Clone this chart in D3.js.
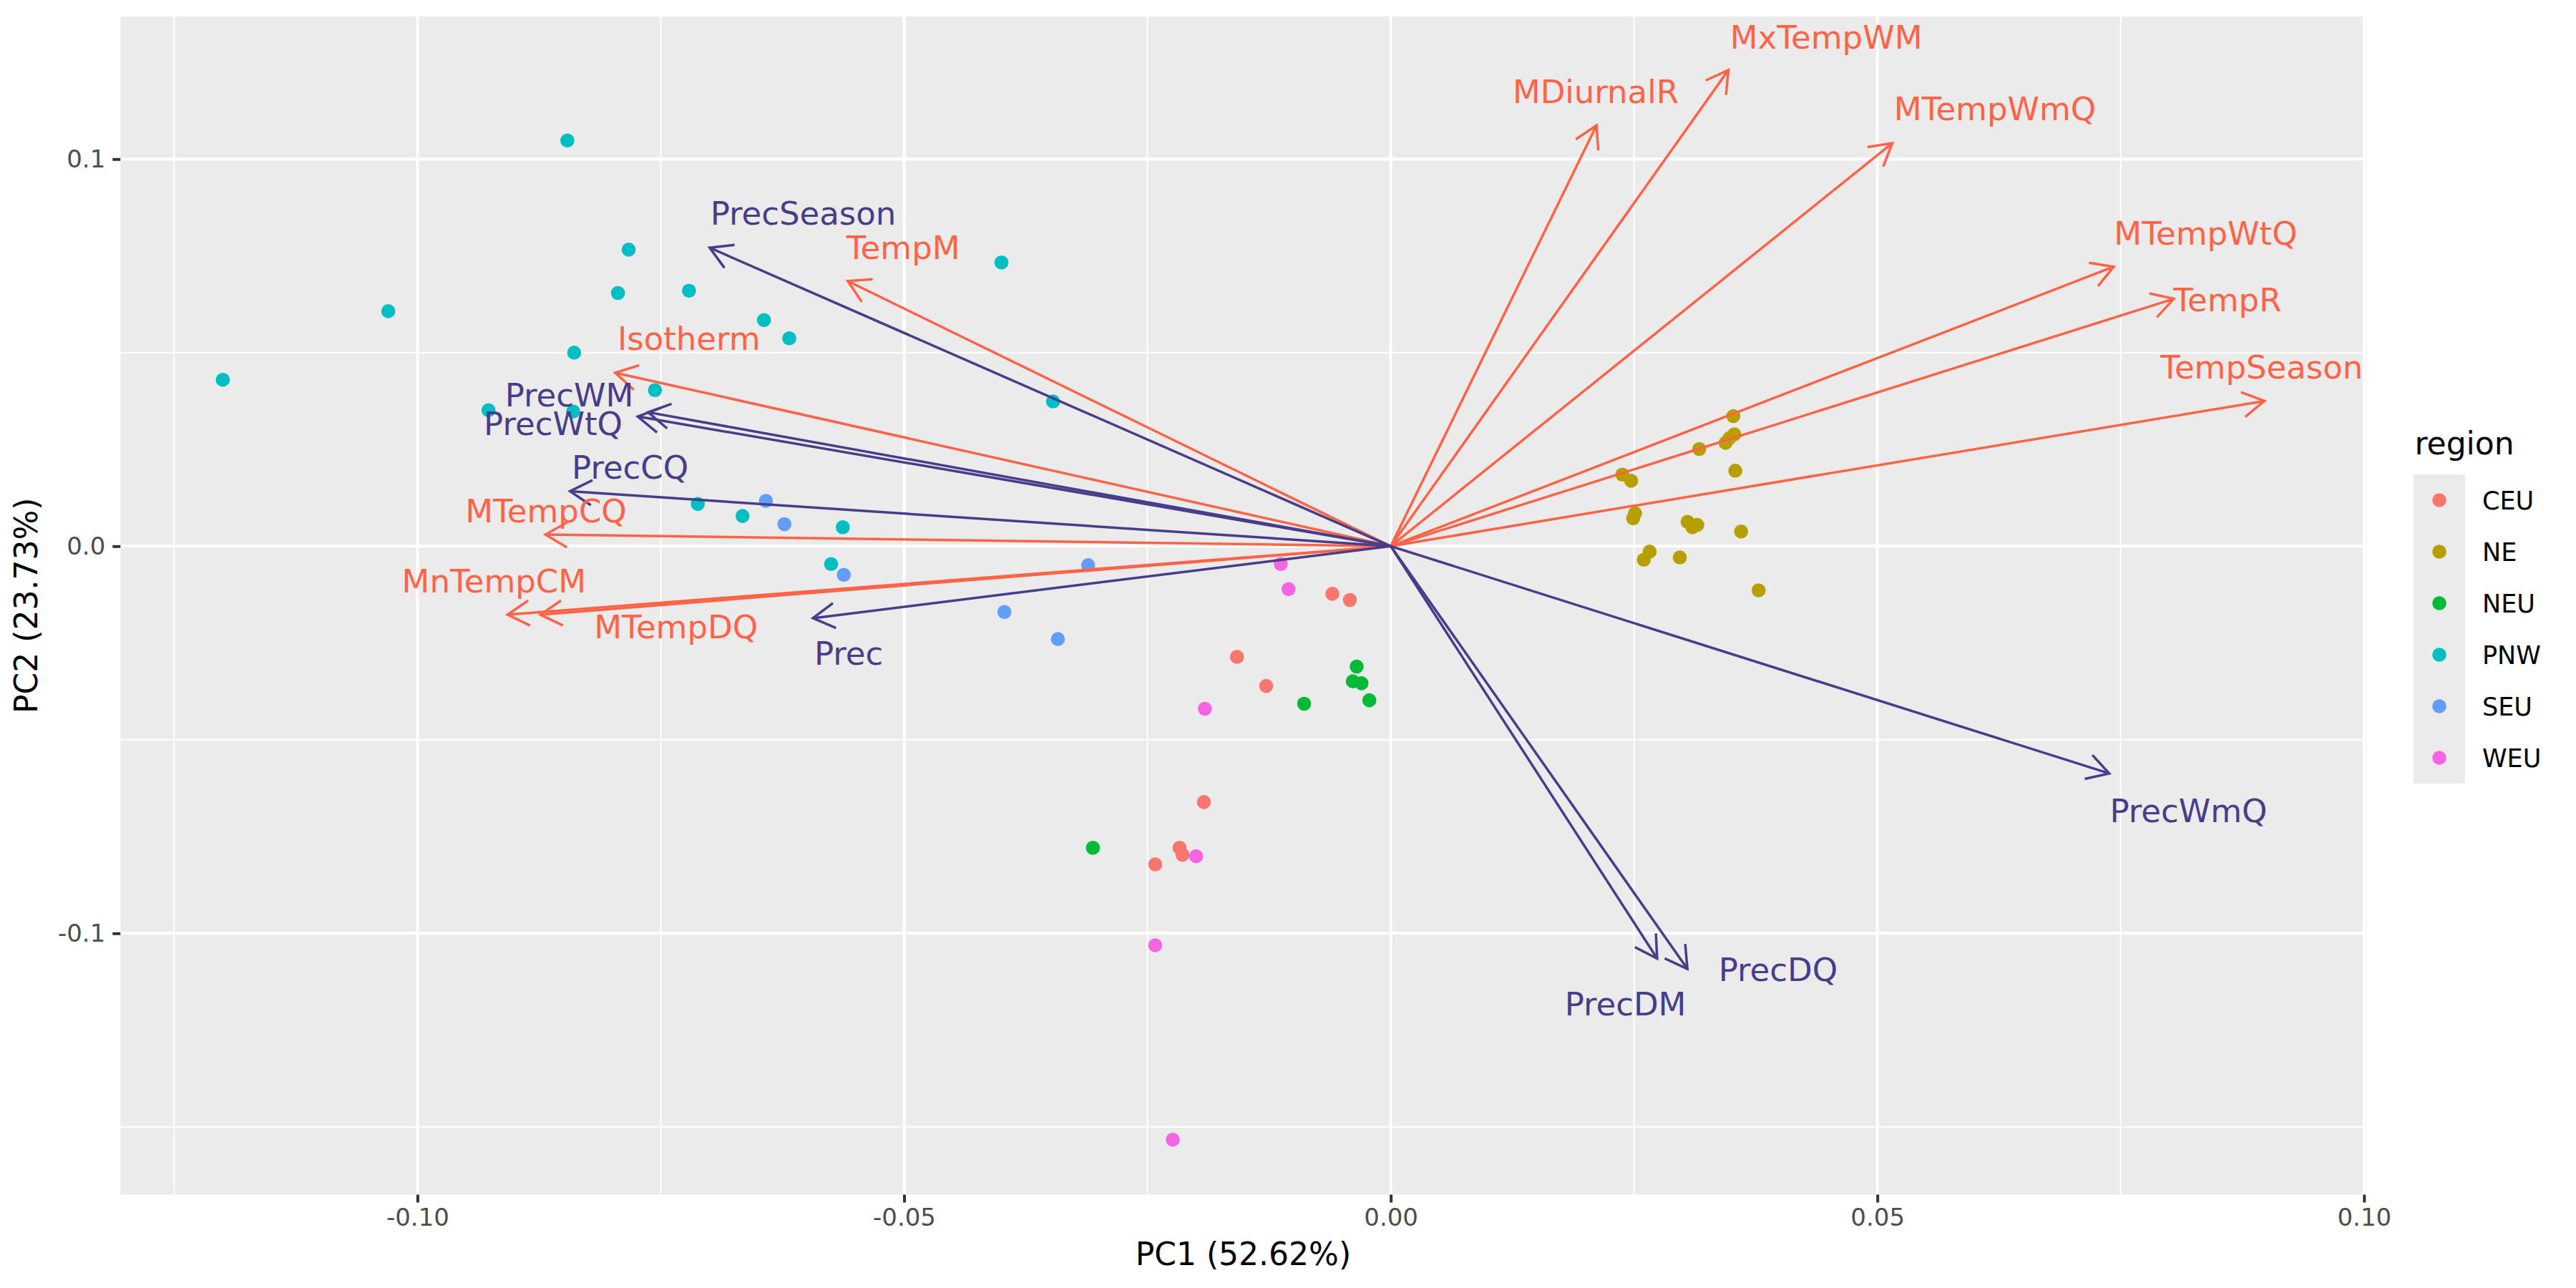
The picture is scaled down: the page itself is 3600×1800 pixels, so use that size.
<!DOCTYPE html>
<html>
<head>
<meta charset="utf-8">
<script src="https://cdn.jsdelivr.net/npm/d3@7"></script>
<style>
  body { margin: 0; background: #ffffff; }
  text { font-family: "DejaVu Sans", sans-serif; }
</style>
</head>
<body>
<div id="chart"></div>
<script>
// Data
var regions = ["CEU", "NE", "NEU", "PNW", "SEU", "WEU"];
var regionColors = ["#F8766D", "#B79F00", "#00BA38", "#00BFC4", "#619CFF", "#F564E3"];

// sample scores (PC1, PC2) and region of each sample
var pointPC1 = [
  -0.0846, -0.0783, -0.0794, -0.0721, -0.1030, -0.0644, -0.0618, -0.1200, -0.0839,
  -0.0756, -0.0927, -0.0840, -0.0712, -0.0666, -0.0400, -0.0347, -0.0563, -0.0575,
  -0.0642, -0.0623, -0.0562, -0.0311, -0.0397, -0.0342,
  -0.0113, -0.0105, -0.0191, -0.0200, -0.0242, -0.0224,
  -0.0060, -0.0042, -0.0158, -0.0128, -0.0192, -0.0217, -0.0214, -0.0242,
  -0.0035, -0.0039, -0.0030, -0.0022, -0.0089, -0.0306,
  0.0352, 0.0353, 0.0348, 0.0344, 0.0317, 0.0354, 0.0238, 0.0247, 0.0251,
  0.0249, 0.0305, 0.0315, 0.0310, 0.0360, 0.0266, 0.0260, 0.0297, 0.0378
];
var pointPC2 = [
  0.1048, 0.0766, 0.0654, 0.0660, 0.0607, 0.0584, 0.0537, 0.0430, 0.0500,
  0.0403, 0.0351, 0.0348, 0.0109, 0.0078, 0.0733, 0.0374, 0.0049, -0.0046,
  0.0117, 0.0057, -0.0074, -0.0049, -0.0170, -0.0240,
  -0.0046, -0.0111, -0.0420, -0.0801, -0.1031, -0.1533,
  -0.0123, -0.0139, -0.0286, -0.0361, -0.0661, -0.0779, -0.0797, -0.0822,
  -0.0311, -0.0349, -0.0354, -0.0398, -0.0407, -0.0779,
  0.0336, 0.0289, 0.0279, 0.0267, 0.0251, 0.0195, 0.0185, 0.0169, 0.0085,
  0.0072, 0.0063, 0.0055, 0.0049, 0.0038, -0.0014, -0.0035, -0.0029, -0.0114
];
var pointRegion = [
  "PNW", "PNW", "PNW", "PNW", "PNW", "PNW", "PNW", "PNW", "PNW",
  "PNW", "PNW", "PNW", "PNW", "PNW", "PNW", "PNW", "PNW", "PNW",
  "SEU", "SEU", "SEU", "SEU", "SEU", "SEU",
  "WEU", "WEU", "WEU", "WEU", "WEU", "WEU",
  "CEU", "CEU", "CEU", "CEU", "CEU", "CEU", "CEU", "CEU",
  "NEU", "NEU", "NEU", "NEU", "NEU", "NEU",
  "NE", "NE", "NE", "NE", "NE", "NE", "NE", "NE", "NE",
  "NE", "NE", "NE", "NE", "NE", "NE", "NE", "NE", "NE"
];

// variable loadings (arrow tips) and label positions
var varNames = [
  "MDiurnalR", "MxTempWM", "MTempWmQ", "MTempWtQ", "TempR", "TempSeason",
  "TempM", "Isotherm", "MTempCQ", "MnTempCM", "MTempDQ",
  "PrecSeason", "PrecWM", "PrecWtQ", "PrecCQ", "Prec", "PrecWmQ", "PrecDM", "PrecDQ"
];
var varGroup = [
  "temp", "temp", "temp", "temp", "temp", "temp",
  "temp", "temp", "temp", "temp", "temp",
  "prec", "prec", "prec", "prec", "prec", "prec", "prec", "prec"
];
var varPC1 = [
  0.02114, 0.03469, 0.05153, 0.07428, 0.08045, 0.08977,
  -0.05579, -0.07968, -0.08686, -0.09075, -0.08737,
  -0.06998, -0.07631, -0.07737, -0.08433, -0.05937, 0.07382, 0.02737, 0.03048
];
var varPC2 = [
  0.1087, 0.1230, 0.1041, 0.0722, 0.0639, 0.0375,
  0.0685, 0.0448, 0.0030, -0.0177, -0.0177,
  0.0771, 0.0346, 0.0335, 0.0142, -0.0186, -0.0587, -0.1065, -0.1092
];
var labelPC1 = [
  0.02105, 0.04474, 0.06208, 0.08373, 0.08596, 0.08948,
  -0.0501, -0.07211, -0.0868, -0.09214, -0.07344,
  -0.06037, -0.08441, -0.08606, -0.07815, -0.05569, 0.08196, 0.02411, 0.0398
];
var labelPC2 = [
  0.1175, 0.1315, 0.1130, 0.0808, 0.0636, 0.0462,
  0.0771, 0.0537, 0.0092, -0.0090, -0.0209,
  0.0861, 0.0390, 0.0316, 0.0203, -0.0277, -0.0683, -0.1182, -0.1094
];

var xMajor = [-0.10, -0.05, 0.00, 0.05, 0.10];
var xMinor = [-0.125, -0.075, -0.025, 0.025, 0.075];
var yMajor = [-0.1, 0.0, 0.1];
var yMinor = [-0.15, -0.05, 0.05];

var groupColors = { temp: "#FF6347", prec: "#483D8B" };

// Chart params
var svgWidth = 3600;
var svgHeight = 1800;
var panel = { left: 168.3, top: 23, right: 3306.5, bottom: 1669.5 };

var svg = d3.select("#chart")
  .append("svg")
  .attr("width", svgWidth)
  .attr("height", svgHeight);

svg.append("rect")
  .attr("width", svgWidth)
  .attr("height", svgHeight)
  .attr("fill", "#ffffff");

var xScale = d3.scaleLinear()
  .domain([-0.13052, 0.1002])
  .range([panel.left, panel.right]);

var yScale = d3.scaleLinear()
  .domain([-0.1675, 0.13684])
  .range([panel.bottom, panel.top]);

// panel background
svg.append("rect")
  .attr("x", panel.left)
  .attr("y", panel.top)
  .attr("width", panel.right - panel.left)
  .attr("height", panel.bottom - panel.top)
  .attr("fill", "#EBEBEB");

var plot = svg.append("g");
var clip = svg.append("clipPath").attr("id", "panelClip");
clip.append("rect")
  .attr("x", panel.left)
  .attr("y", panel.top)
  .attr("width", panel.right - panel.left)
  .attr("height", panel.bottom - panel.top);

var grid = plot.append("g").attr("clip-path", "url(#panelClip)");

// minor then major gridlines
grid.selectAll(".xminor").data(xMinor).enter().append("line")
  .attr("x1", d => xScale(d)).attr("x2", d => xScale(d))
  .attr("y1", panel.top).attr("y2", panel.bottom)
  .attr("stroke", "#ffffff").attr("stroke-width", 2);
grid.selectAll(".yminor").data(yMinor).enter().append("line")
  .attr("y1", d => yScale(d)).attr("y2", d => yScale(d))
  .attr("x1", panel.left).attr("x2", panel.right)
  .attr("stroke", "#ffffff").attr("stroke-width", 2);
grid.selectAll(".xmajor").data(xMajor).enter().append("line")
  .attr("x1", d => xScale(d)).attr("x2", d => xScale(d))
  .attr("y1", panel.top).attr("y2", panel.bottom)
  .attr("stroke", "#ffffff").attr("stroke-width", 4);
grid.selectAll(".ymajor").data(yMajor).enter().append("line")
  .attr("y1", d => yScale(d)).attr("y2", d => yScale(d))
  .attr("x1", panel.left).attr("x2", panel.right)
  .attr("stroke", "#ffffff").attr("stroke-width", 4);

// axes
var bottomAxis = d3.axisBottom(xScale)
  .tickValues(xMajor)
  .tickSize(11)
  .tickPadding(8)
  .tickFormat(d => d.toFixed(2));
var leftAxis = d3.axisLeft(yScale)
  .tickValues(yMajor)
  .tickSize(11)
  .tickPadding(10)
  .tickFormat(d => d.toFixed(1));

var xAxis = svg.append("g")
  .attr("transform", `translate(0, ${panel.bottom})`)
  .call(bottomAxis);
var yAxis = svg.append("g")
  .attr("transform", `translate(${panel.left}, 0)`)
  .call(leftAxis);

[xAxis, yAxis].forEach(function(ax) {
  ax.select(".domain").remove();
  ax.selectAll(".tick line").attr("stroke", "#333333").attr("stroke-width", 4);
  ax.selectAll(".tick text")
    .attr("fill", "#4D4D4D")
    .attr("font-size", "34px")
    .attr("font-family", "DejaVu Sans");
});

// points
var points = d3.range(pointPC1.length);
plot.append("g").selectAll("circle")
  .data(points)
  .enter()
  .append("circle")
  .attr("cx", i => xScale(pointPC1[i]))
  .attr("cy", i => yScale(pointPC2[i]))
  .attr("r", 9.8)
  .attr("fill", i => regionColors[regions.indexOf(pointRegion[i])]);

// arrows from origin
var vars = d3.range(varNames.length);
var headLen = 35;
var headAngle = Math.PI / 6;

function arrowPath(i) {
  var x0 = xScale(0), y0 = yScale(0);
  var x1 = xScale(varPC1[i]), y1 = yScale(varPC2[i]);
  var a = Math.atan2(y1 - y0, x1 - x0);
  var ax1 = x1 - headLen * Math.cos(a - headAngle);
  var ay1 = y1 - headLen * Math.sin(a - headAngle);
  var ax2 = x1 - headLen * Math.cos(a + headAngle);
  var ay2 = y1 - headLen * Math.sin(a + headAngle);
  return `M${x0},${y0}L${x1},${y1}M${ax1},${ay1}L${x1},${y1}L${ax2},${ay2}`;
}

plot.append("g").selectAll("path")
  .data(vars)
  .enter()
  .append("path")
  .attr("d", arrowPath)
  .attr("fill", "none")
  .attr("stroke", i => groupColors[varGroup[i]])
  .attr("stroke-width", 3.5)
  .attr("stroke-linecap", "butt");

// arrow labels
plot.append("g").selectAll("text")
  .data(vars)
  .enter()
  .append("text")
  .attr("x", i => xScale(labelPC1[i]))
  .attr("y", i => yScale(labelPC2[i]) + 16)
  .attr("text-anchor", "middle")
  .attr("font-size", "45px")
  .attr("fill", i => groupColors[varGroup[i]])
  .text(i => varNames[i]);

// axis titles
svg.append("text")
  .attr("x", (panel.left + panel.right) / 2)
  .attr("y", 1768)
  .attr("text-anchor", "middle")
  .attr("font-size", "44px")
  .attr("fill", "#000000")
  .text("PC1 (52.62%)");

svg.append("text")
  .attr("transform", `translate(52, ${(panel.top + panel.bottom) / 2}) rotate(-90)`)
  .attr("text-anchor", "middle")
  .attr("font-size", "44px")
  .attr("fill", "#000000")
  .text("PC2 (23.73%)");

// legend
var legend = svg.append("g").attr("transform", "translate(3373, 663)");
legend.append("text")
  .attr("x", 1.5)
  .attr("y", -28)
  .attr("font-size", "44px")
  .attr("fill", "#000000")
  .text("region");

var keys = legend.selectAll(".key")
  .data(regions)
  .enter()
  .append("g")
  .attr("transform", (d, i) => `translate(0, ${i * 72})`);
keys.append("rect")
  .attr("width", 72)
  .attr("height", 72)
  .attr("fill", "#EBEBEB");
keys.append("circle")
  .attr("cx", 36)
  .attr("cy", 36)
  .attr("r", 9.8)
  .attr("fill", (d, i) => regionColors[i]);
keys.append("text")
  .attr("x", 96)
  .attr("y", 48.5)
  .attr("font-size", "35px")
  .attr("fill", "#000000")
  .text(d => d);
</script>
</body>
</html>
